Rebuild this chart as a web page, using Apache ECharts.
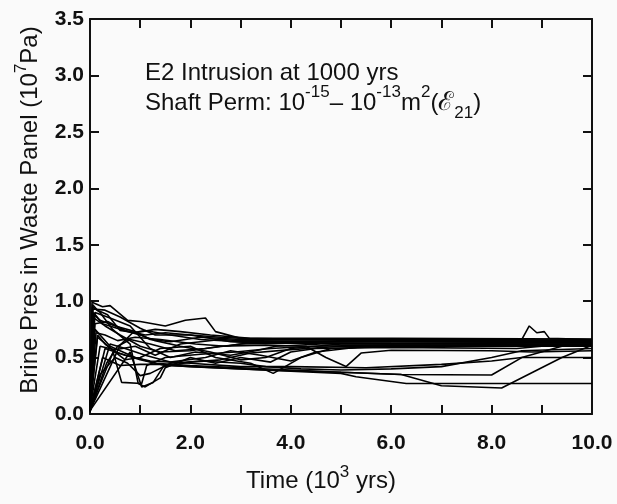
<!DOCTYPE html>
<html>
<head>
<meta charset="utf-8">
<script src="https://cdn.jsdelivr.net/npm/echarts@6/dist/echarts.min.js"></script>
<style>
  html, body { margin: 0; padding: 0; background: #fafafa; }
  #chart { width: 617px; height: 504px; }
</style>
</head>
<body>
<div id="chart"></div>
<script>
// Brine pressure in the waste panel, one line per realization: [time (10^3 yrs), pressure (10^7 Pa)]
const run01 = [[0,0.08],[0.04,0.99],[0.25,0.95],[0.4,0.96],[0.75,0.83],[1.0,0.82],[1.5,0.78],[1.9,0.83],[2.3,0.85],[2.5,0.73],[3.0,0.67],[4,0.665],[6,0.665],[8.6,0.66],[8.75,0.78],[8.9,0.72],[9.05,0.73],[9.15,0.67],[10,0.66]];
const run02 = [[0,0.06],[0.06,0.93],[0.3,0.92],[0.6,0.86],[1.0,0.76],[1.3,0.7],[2.0,0.7],[2.6,0.68],[3.5,0.66],[6,0.66],[10,0.655]];
const run03 = [[0,0.05],[0.08,0.88],[0.2,0.83],[0.5,0.78],[0.9,0.73],[1.2,0.66],[1.6,0.64],[2.2,0.68],[3,0.66],[5,0.655],[10,0.65]];
const run04 = [[0,0.05],[0.1,0.8],[0.35,0.82],[0.7,0.74],[1.1,0.7],[1.5,0.72],[2.0,0.7],[2.8,0.64],[3.4,0.63],[5,0.64],[7,0.645],[10,0.64]];
const run05 = [[0,0.04],[0.12,0.72],[0.3,0.7],[0.55,0.65],[0.9,0.68],[1.4,0.66],[2.1,0.62],[2.7,0.6],[3.3,0.64],[5.5,0.64],[10,0.635]];
const run06 = [[0,0.03],[0.6,0.61],[0.85,0.72],[1.1,0.74],[1.6,0.7],[2.2,0.66],[3,0.64],[4.5,0.645],[7,0.64],[10,0.63]];
const run07 = [[0,0.02],[0.33,0.45],[0.55,0.6],[0.8,0.66],[1.2,0.62],[1.7,0.56],[2.3,0.58],[3.0,0.62],[4,0.63],[6,0.625],[10,0.62]];
const run08 = [[0,0.06],[0.08,0.85],[0.3,0.78],[0.6,0.7],[1.0,0.6],[1.4,0.55],[2.0,0.56],[2.6,0.6],[3.5,0.61],[4.3,0.6],[4.7,0.5],[5.1,0.42],[5.4,0.54],[6.0,0.565],[8,0.56],[8.8,0.55],[10,0.56]];
const run09 = [[0,0.04],[0.46,0.55],[0.63,0.28],[1.03,0.27],[1.13,0.43],[1.5,0.5],[2.2,0.53],[2.9,0.55],[3.6,0.58],[4.4,0.6],[6,0.61],[10,0.605]];
const run10 = [[0,0.03],[0.8,0.55],[1.03,0.24],[1.26,0.28],[1.46,0.42],[2.0,0.46],[2.6,0.48],[3.2,0.54],[4.0,0.57],[5,0.6],[7,0.6],[10,0.6]];
const run11 = [[0,0.07],[0.05,0.95],[0.2,0.9],[0.45,0.75],[0.8,0.62],[0.96,0.27],[1.1,0.24],[1.4,0.32],[1.5,0.41],[2.0,0.5],[2.5,0.45],[3.0,0.5],[3.6,0.46],[4.0,0.55],[4.5,0.58],[6,0.59],[8.5,0.58],[9,0.6],[10,0.6]];
const run12 = [[0,0.05],[0.1,0.9],[0.4,0.85],[0.8,0.78],[1.2,0.58],[1.6,0.5],[2.1,0.55],[2.8,0.52],[3.3,0.56],[3.7,0.6],[4.6,0.62],[7,0.62],[10,0.615]];
const run13 = [[0,0.06],[0.15,0.7],[0.3,0.62],[0.7,0.48],[1.0,0.5],[1.4,0.58],[2.0,0.6],[2.5,0.5],[3.2,0.45],[3.65,0.36],[4.2,0.5],[4.8,0.58],[6,0.6],[10,0.61]];
const run14 = [[0,0.04],[0.2,0.6],[0.5,0.57],[0.9,0.6],[1.3,0.52],[1.8,0.62],[2.6,0.66],[3,0.65],[5,0.64],[8,0.64],[10,0.645]];
const run15 = [[0,0.03],[0.25,0.5],[0.6,0.43],[1.0,0.44],[1.4,0.44],[2.0,0.42],[3.0,0.4],[4.0,0.38],[5.0,0.36],[5.3,0.33],[6.3,0.27],[7.5,0.27],[10,0.27]];
const run16 = [[0,0.05],[0.1,0.75],[0.4,0.6],[0.9,0.5],[1.3,0.45],[2.0,0.43],[3.0,0.41],[4,0.39],[5,0.37],[6.2,0.35],[7.0,0.25],[8.2,0.23],[9.4,0.5],[10,0.61]];
const run17 = [[0,0.04],[0.15,0.68],[0.5,0.55],[1.0,0.48],[1.5,0.43],[2.5,0.41],[3.5,0.39],[5,0.37],[6.2,0.35],[8.0,0.345],[8.6,0.5],[9.4,0.6],[10,0.62]];
const run18 = [[0,0.04],[0.3,0.58],[0.7,0.52],[1.2,0.47],[2,0.45],[3,0.42],[4,0.42],[5.5,0.41],[7,0.44],[8.0,0.47],[8.6,0.5],[10,0.5]];
const run19 = [[0,0.05],[0.07,0.9],[0.25,0.8],[0.6,0.75],[1.0,0.7],[1.3,0.65],[1.8,0.6],[2.4,0.55],[3.0,0.48],[3.5,0.5],[4.0,0.58],[5,0.62],[10,0.62]];
const run20 = [[0,0.03],[0.4,0.62],[0.7,0.58],[1.1,0.52],[1.6,0.46],[2.3,0.5],[2.8,0.56],[3.4,0.52],[4.0,0.47],[4.5,0.55],[5.5,0.6],[10,0.61]];
const run21 = [[0,0.06],[0.05,0.97],[0.15,0.92],[0.35,0.88],[0.6,0.74],[0.9,0.72],[1.3,0.75],[1.8,0.73],[2.4,0.7],[3.2,0.67],[6,0.67],[10,0.665]];
const run22 = [[0,0.02],[0.2,0.35],[0.5,0.5],[0.75,0.45],[1.0,0.34],[1.2,0.36],[1.6,0.45],[2.2,0.47],[3.0,0.45],[3.5,0.42],[4.2,0.4],[5,0.39],[6,0.4],[7,0.42],[8,0.5],[8.6,0.56],[10,0.58]];

const runs = [run01, run02, run03, run04, run05, run06, run07, run08, run09, run10, run11,
              run12, run13, run14, run15, run16, run17, run18, run19, run20, run21, run22];

// Axis ranges and tick labels
const timeTicks = [0, 2, 4, 6, 8, 10];
const xMin = 0, xMax = 10, xStep = 1;
const yMin = 0, yMax = 3.5, yStep = 0.5;

const FONT = '"Liberation Sans", Arial, Helvetica, sans-serif';
const INK = '#111';

const chart = echarts.init(document.getElementById('chart'), null, { renderer: 'canvas' });

const frameAxis = {
  axisLine: { show: true, onZero: false, lineStyle: { color: INK, width: 2 } },
  axisTick: { show: true, inside: true, length: 9, lineStyle: { color: INK, width: 2 } },
  splitLine: { show: false }
};

const xBase = Object.assign({ type: 'value', min: xMin, max: xMax, interval: xStep }, frameAxis);
const yBase = Object.assign({ type: 'value', min: yMin, max: yMax, interval: yStep }, frameAxis);

const sup = { fontSize: 17, fontFamily: FONT, color: INK, verticalAlign: 'top', lineHeight: 16 };
const sub = { fontSize: 17, fontFamily: FONT, color: INK, verticalAlign: 'bottom', lineHeight: 16 };
const script = { fontSize: 26, fontFamily: FONT, color: INK };

chart.setOption({
  backgroundColor: '#fafafa',
  animation: false,
  grid: { left: 90, right: 25, top: 19, bottom: 90, containLabel: false },
  xAxis: [
    Object.assign({}, xBase, {
      position: 'bottom',
      axisLabel: {
        show: true, color: INK, fontSize: 21, fontWeight: 'bold', fontFamily: FONT, margin: 19,
        formatter: v => (timeTicks.indexOf(v) >= 0 ? v.toFixed(1) : '')
      }
    }),
    Object.assign({}, xBase, { position: 'top', axisLabel: { show: false } })
  ],
  yAxis: [
    Object.assign({}, yBase, {
      position: 'left',
      axisLabel: { show: true, color: INK, fontSize: 21, fontWeight: 'bold', fontFamily: FONT, margin: 6,
                   formatter: v => v.toFixed(1) }
    }),
    Object.assign({}, yBase, { position: 'right', axisLabel: { show: false } })
  ],
  series: runs.map((r, i) => ({
    type: 'line',
    name: 'run' + (i + 1),
    data: r,
    xAxisIndex: 0,
    yAxisIndex: 0,
    showSymbol: false,
    symbol: 'none',
    silent: true,
    lineStyle: { color: '#000', width: 1.6 },
    clip: true
  })),
  graphic: [
    {
      type: 'text', left: 145, top: 61, silent: true,
      style: { text: 'E2 Intrusion at 1000 yrs', font: '24px ' + FONT, fill: INK }
    },
    {
      type: 'text', left: 145, top: 84, silent: true,
      style: {
        text: 'Shaft Perm: 10{sup|-15}\u2013 10{sup|-13}m{sup|2}({e|\u2130}{sub|21})',
        font: '24px ' + FONT, fill: INK, lineHeight: 38,
        rich: { sup: sup, sub: sub, e: script }
      }
    },
    {
      type: 'text', x: 30, y: 210, rotation: Math.PI / 2, silent: true,
      style: {
        text: 'Brine Pres in Waste Panel (10{sup|7}Pa)',
        font: '24px ' + FONT, fill: INK, align: 'center', verticalAlign: 'middle',
        lineHeight: 34, rich: { sup: sup }
      }
    },
    {
      type: 'text', x: 321, y: 481, silent: true,
      style: {
        text: 'Time (10{sup|3} yrs)',
        font: '24px ' + FONT, fill: INK, align: 'center', verticalAlign: 'middle',
        lineHeight: 34, rich: { sup: sup }
      }
    }
  ]
});
</script>
</body>
</html>
